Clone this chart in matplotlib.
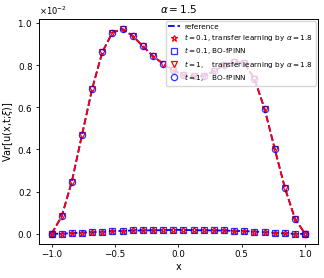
import matplotlib
matplotlib.use("Agg")
import matplotlib.pyplot as plt
import numpy as np

# x grid
x = [-1.00, -0.92, -0.84, -0.76, -0.68, -0.60, -0.52, -0.44, -0.36, -0.28,
     -0.20, -0.12, -0.04, 0.04, 0.12, 0.20, 0.28, 0.36, 0.44, 0.52,
     0.60, 0.68, 0.76, 0.84, 0.92, 1.00]

# variance values in units of 1e-2
var_t1 = [0.0, 0.083, 0.248, 0.469, 0.687, 0.861, 0.954, 0.970, 0.938, 0.889,
          0.842, 0.806, 0.775, 0.752, 0.747, 0.749, 0.770, 0.800, 0.815, 0.810,
          0.735, 0.592, 0.403, 0.218, 0.071, 0.0]
var_t01 = [0.0, 0.001, 0.003, 0.006, 0.008, 0.010, 0.013, 0.014, 0.016, 0.016,
           0.017, 0.017, 0.019, 0.019, 0.017, 0.017, 0.016, 0.016, 0.014, 0.013,
           0.011, 0.008, 0.005, 0.002, 0.0, 0.0]

xticks = [-1.0, -0.5, 0.0, 0.5, 1.0]

scale = 1e-2
xa = np.array(x)
t1 = np.array(var_t1) * scale
t01 = np.array(var_t01) * scale

fig = plt.figure(figsize=(3.24, 2.78), dpi=100)
ax = fig.add_axes([0.12, 0.122, 0.861, 0.81])

ax.plot(xa, t1, 'b--', lw=1.3, label='reference')
ax.plot(xa, t01, 'b--', lw=1.3, label='_nolegend_')
ax.plot(xa, t1, 'r--', lw=1.3, label='_nolegend_')

ms = 4.5
ax.plot(xa, t01, linestyle='none', marker='*', ms=ms, mfc='none', mec='red', mew=0.9,
        label=r'$t=0.1$, transfer learning by $\alpha=1.8$')
ax.plot(xa, t01, linestyle='none', marker='s', ms=ms, mfc='none', mec='blue', mew=0.9, alpha=0.8,
        label=r'$t=0.1$, BO-fPINN')
ax.plot(xa, t1, linestyle='none', marker='v', ms=ms, mfc='none', mec='red', mew=0.9,
        label=r'$t=1$,    transfer learning by $\alpha=1.8$')
ax.plot(xa, t1, linestyle='none', marker='o', ms=ms, mfc='none', mec='blue', mew=0.9, alpha=0.8,
        label=r'$t=1$,    BO-fPINN')

ax.set_xticks(xticks)
ax.ticklabel_format(style='sci', axis='y', scilimits=(0, 0), useMathText=True)
ax.yaxis.get_offset_text().set_fontsize(6)
ax.tick_params(labelsize=6.3, length=2.5, width=0.6, pad=2)
for s in ax.spines.values():
    s.set_linewidth(0.7)

ax.set_xlabel('x', fontsize=7, labelpad=2)
ax.set_ylabel(r'Var[u(x,t;$\xi$)]', fontsize=7, labelpad=2)
ax.set_title(r'$\alpha=1.5$', fontsize=7.5, pad=4)

ax.legend(loc='upper right', fontsize=5.2, handlelength=1.6, borderpad=0.4,
          labelspacing=0.3, handletextpad=0.6, borderaxespad=0.3, framealpha=0.8)

fig.savefig('out.png', dpi=100)
